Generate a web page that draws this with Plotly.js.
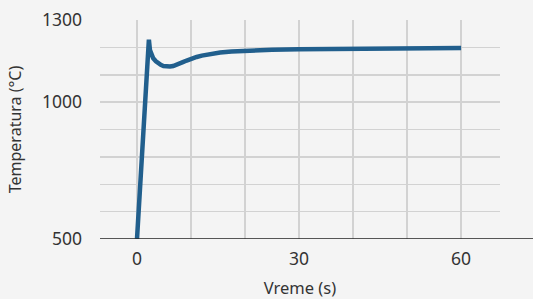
<!DOCTYPE html>
<html>
<head>
<meta charset="utf-8">
<script src="https://cdn.plot.ly/plotly-3.0.1.min.js"></script>
<style>html,body{margin:0;padding:0;background:#f4f4f4;}#chart{width:533px;height:299px;}</style>
</head>
<body>
<div id="chart"></div>
<script>
const timeS = [0, 1, 2.2, 2.4, 2.7, 3.0, 3.5, 3.95, 4.4, 4.9, 5.5, 6.1, 6.7, 7.35, 8, 8.6, 9.2, 9.8, 10.4, 11.05, 12, 12.9, 14, 15.4, 17.5, 20, 25, 30, 35, 40, 45, 50, 55, 60];
const tempC = [500, 830, 1228, 1190, 1172, 1160, 1149, 1141, 1136, 1132, 1130, 1130, 1132, 1136, 1141, 1147, 1152, 1157, 1161, 1165, 1170, 1174, 1178, 1181, 1185, 1188, 1191, 1193, 1194, 1195, 1196, 1197, 1197, 1198];
const yTickVals = [500, 600, 700, 800, 900, 1000, 1100, 1200, 1300];
const yTickText = ['500', '', '', '', '', '1000', '', '', '1300'];
const xTickVals = [0, 10, 20, 30, 40, 50, 60];
const xTickText = ['0', '', '', '30', '', '', '60'];

const fam = 'Noto Sans, sans-serif';

Plotly.newPlot('chart', [{
  x: timeS, y: tempC, type: 'scatter', mode: 'lines',
  line: {color: '#215f8d', width: 4.5, shape: 'linear'},
  hoverinfo: 'skip'
}], {
  width: 533, height: 299,
  margin: {l: 100, r: 33, t: 20, b: 60},
  paper_bgcolor: '#f4f4f4', plot_bgcolor: '#f4f4f4',
  font: {family: fam, size: 16, color: '#333'},
  showlegend: false,
  xaxis: {
    range: [-6.85, 67.2], tickvals: xTickVals, ticktext: xTickText,
    showgrid: true, gridcolor: '#d2d2d2', gridwidth: 1.5,
    zeroline: false, showline: false, ticks: '',
    ticklabelstandoff: 7,
    tickfont: {family: fam, size: 17.5, color: '#333'},
    title: {text: 'Vreme (s)', font: {family: fam, size: 16.5, color: '#333'}, standoff: 19}
  },
  yaxis: {
    range: [500, 1300], tickvals: yTickVals, ticktext: yTickText,
    showgrid: true, gridcolor: '#d2d2d2', gridwidth: 1.5,
    zeroline: false, showline: false, ticks: '',
    ticklabelstandoff: 17,
    tickfont: {family: fam, size: 17.5, color: '#333'},
    title: {text: 'Temperatura (°C)', font: {family: fam, size: 16, color: '#333'}, standoff: 16}
  },
  shapes: [{type: 'line', xref: 'paper', yref: 'y', x0: 0, x1: 1.0825, y0: 500, y1: 500, line: {color: '#222', width: 1.5}, layer: 'above'}]
}, {staticPlot: true});
</script>
</body>
</html>
